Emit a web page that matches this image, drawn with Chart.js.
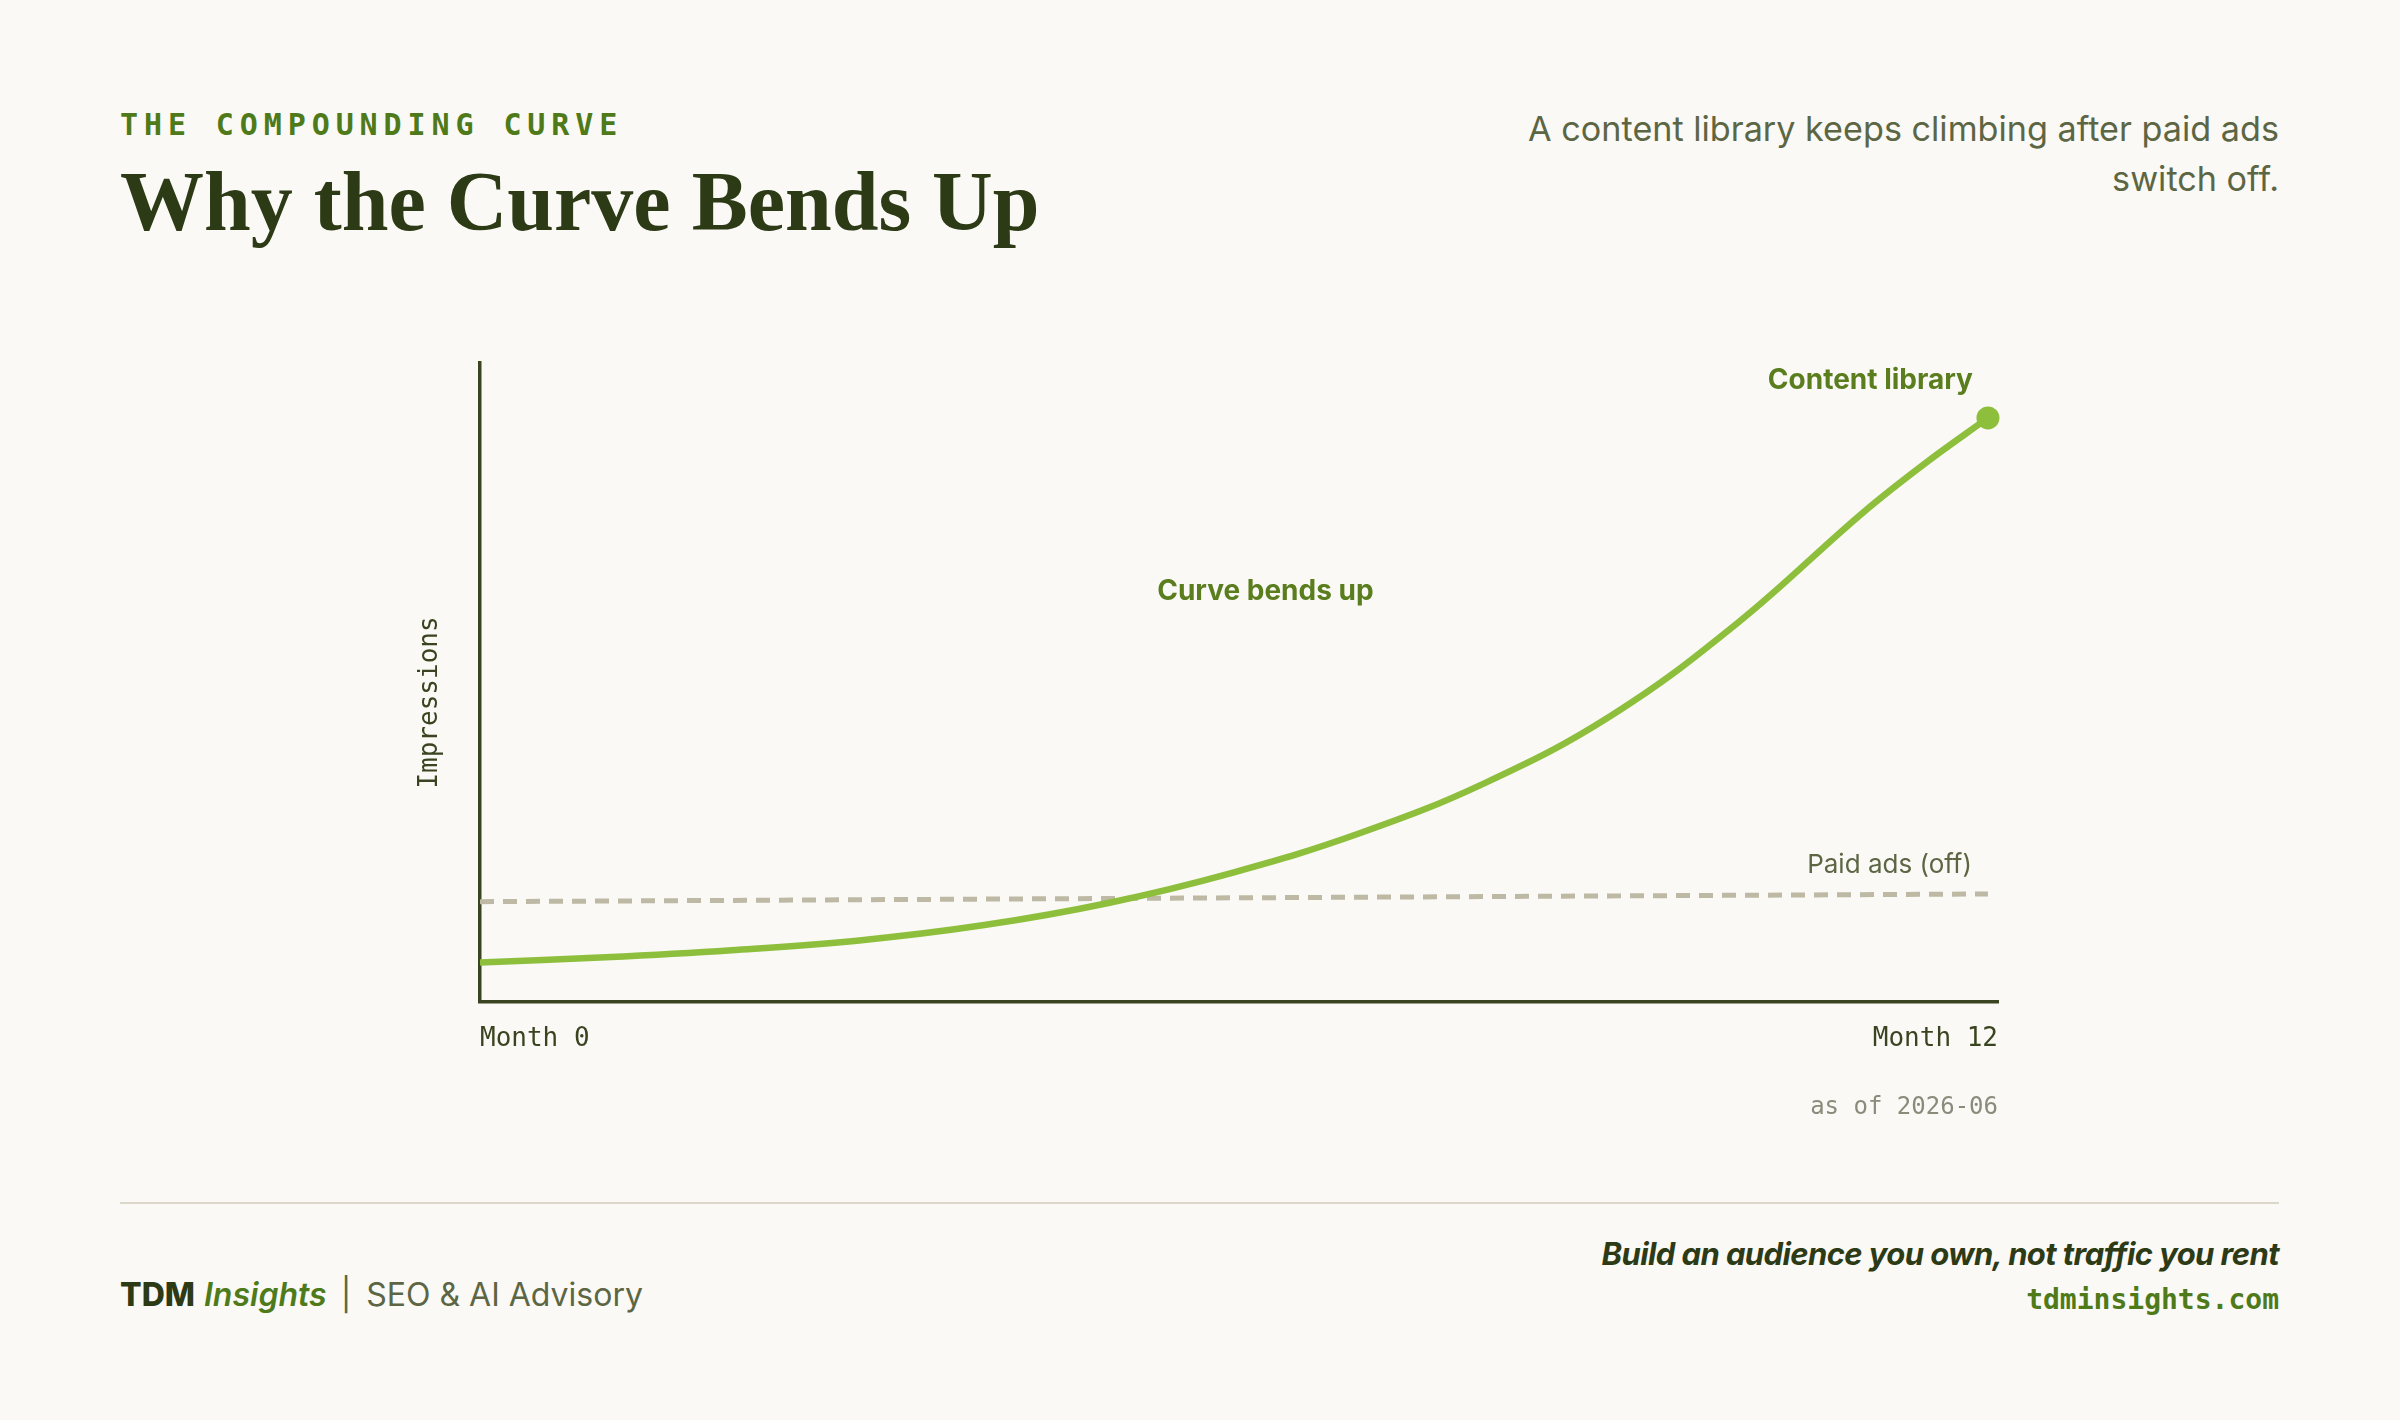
<!DOCTYPE html>
<html>
<head>
<meta charset="utf-8">
<script src="https://cdn.jsdelivr.net/npm/chart.js@4/dist/chart.umd.min.js"></script>
<style>
  html, body { margin: 0; padding: 0; }
  body { width: 2400px; height: 1420px; background: #faf9f5; position: relative; overflow: hidden; }
  .abs { position: absolute; white-space: nowrap; }
  .eyebrow { left: 120px; top: 110px; font: 700 30px/30px 'DejaVu Sans Mono', monospace; letter-spacing: 5.9px; color: #4f7a1a; }
  h1 { margin: 0; left: 120px; top: 160px; font: 700 84px/84px 'Liberation Serif', serif; color: #2d3a16; }
  .sub { right: 121px; top: 104px; text-align: right; font: 400 34.2px/50px Inter, sans-serif; color: #5d6644; }
  #wrap { position: absolute; left: 380px; top: 330px; width: 1640px; height: 792px; }
  .divider { left: 120px; top: 1202px; width: 2159px; height: 2px; background: #dcd7c8; }
  .fleft { left: 120px; top: 1275px; font: 400 32px/40px Inter, sans-serif; color: #5d6644; }
  .fleft b { color: #2d3a16; font-weight: 800; }
  .fleft i { color: #4f7a1a; font-weight: 600; }
  .fleft .sep { margin: 0 15px 0 14px; }
  .tag { right: 121px; top: 1234px; font: italic 700 31px/40px Inter, sans-serif; color: #2d3a16; letter-spacing: -0.6px; }
  .url { right: 121px; top: 1283px; font: 700 28px/34px 'DejaVu Sans Mono', monospace; color: #4f7a1a; }
</style>
</head>
<body>
<div class="abs eyebrow">THE COMPOUNDING CURVE</div>
<h1 class="abs">Why the Curve Bends Up</h1>
<div class="abs sub">A content library keeps climbing after paid ads<br>switch off.</div>
<div id="wrap"><canvas id="c"></canvas></div>
<div class="abs divider"></div>
<div class="abs fleft"><b>TDM</b> <i>Insights</i><span class="sep">|</span>SEO &amp; AI Advisory</div>
<div class="abs tag">Build an audience you own, not traffic you rent</div>
<div class="abs url">tdminsights.com</div>
<script>
// ---- data ----
const months = [0, 1, 2, 3, 4, 5, 6, 7, 8, 9, 10, 11, 11.5, 12];
const contentValues = [6.2, 7.0, 8.1, 9.6, 12.0, 15.5, 20.3, 26.4, 34.3, 44.8, 59.2, 76.5, 84.3, 91.4];
const paidMonths = [0, 12];
const paidValues = [15.7, 16.9];
const xTickLabels = ['Month 0', 'Month 12'];
const yAxisTitle = 'Impressions';
const seriesNames = ['Content library', 'Paid ads (off)'];
const noteText = 'Curve bends up';
const asOfText = 'as of 2026-06';

const GREEN = '#8dbf3c';
const DARK = '#3a4420';

const annotations = {
  id: 'annotations',
  afterDatasetsDraw(chart) {
    const ctx = chart.ctx;
    const area = chart.chartArea;
    const m0 = chart.getDatasetMeta(0).data;
    const m1 = chart.getDatasetMeta(1).data;
    const last = m0[m0.length - 1];
    const lastPaid = m1[m1.length - 1];
    const xs = chart.scales.x, ys = chart.scales.y;
    ctx.save();
    ctx.textBaseline = 'middle';
    ctx.fillStyle = '#5a7d1e';
    ctx.font = '700 28px Inter, sans-serif';
    ctx.textAlign = 'right';
    ctx.fillText(seriesNames[0], last.x - 15, last.y - 37);
    ctx.textAlign = 'center';
    ctx.fillText(noteText, xs.getPixelForValue(6.25), ys.getPixelForValue(64.2));
    ctx.font = '400 26px Inter, sans-serif';
    ctx.fillStyle = '#5d6644';
    ctx.textAlign = 'right';
    ctx.fillText(seriesNames[1], lastPaid.x - 16, lastPaid.y - 29);
    ctx.font = '400 24px "DejaVu Sans Mono", monospace';
    ctx.fillStyle = '#8b8a7b';
    ctx.fillText(asOfText, area.right, area.bottom + 106);
    // y axis title
    ctx.translate(area.left - 50, (area.top + area.bottom) / 2 + 20);
    ctx.rotate(-Math.PI / 2);
    ctx.textAlign = 'center';
    ctx.fillStyle = DARK;
    ctx.font = '400 26px "DejaVu Sans Mono", monospace';
    ctx.fillText(yAxisTitle, 0, 0);
    ctx.restore();
  }
};

new Chart(document.getElementById('c'), {
  type: 'line',
  data: {
    datasets: [
      {
        label: seriesNames[0],
        data: months.map((m, i) => ({ x: m, y: contentValues[i] })),
        borderColor: GREEN,
        backgroundColor: GREEN,
        borderWidth: 6.5,
        tension: 0.4,
        pointRadius: months.map((m, i) => i === months.length - 1 ? 11.5 : 0),
        pointBackgroundColor: GREEN,
        pointBorderWidth: 0,
        fill: false,
        clip: false
      },
      {
        label: seriesNames[1],
        data: paidMonths.map((m, i) => ({ x: m, y: paidValues[i] })),
        borderColor: '#bdb9a4',
        borderWidth: 5,
        borderDash: [14, 9],
        pointRadius: 0,
        fill: false
      }
    ]
  },
  options: {
    responsive: true,
    maintainAspectRatio: false,
    animation: false,
    devicePixelRatio: 1,
    layout: { padding: { left: 0, right: 20, top: 33, bottom: 0 } },
    plugins: { legend: { display: false }, tooltip: { enabled: false } },
    scales: {
      x: {
        type: 'linear',
        min: 0,
        max: 12.08,
        grid: { display: false, drawTicks: false },
        border: { display: true, color: DARK, width: 3.5 },
        afterBuildTicks(scale) { scale.ticks = [{ value: scale.min }, { value: scale.max }]; },
        afterFit(scale) { scale.height = 120; },
        ticks: {
          autoSkip: false,
          maxRotation: 0,
          align: 'inner',
          padding: 22,
          color: DARK,
          font: { family: 'DejaVu Sans Mono', size: 26 },
          callback: (v, i) => xTickLabels[i]
        }
      },
      y: {
        min: 0,
        max: 100,
        grid: { display: false, drawTicks: false },
        border: { display: true, color: DARK, width: 3.5 },
        ticks: { display: false },
        afterFit(scale) { scale.width = 100; }
      }
    }
  },
  plugins: [annotations]
});
</script>
</body>
</html>
